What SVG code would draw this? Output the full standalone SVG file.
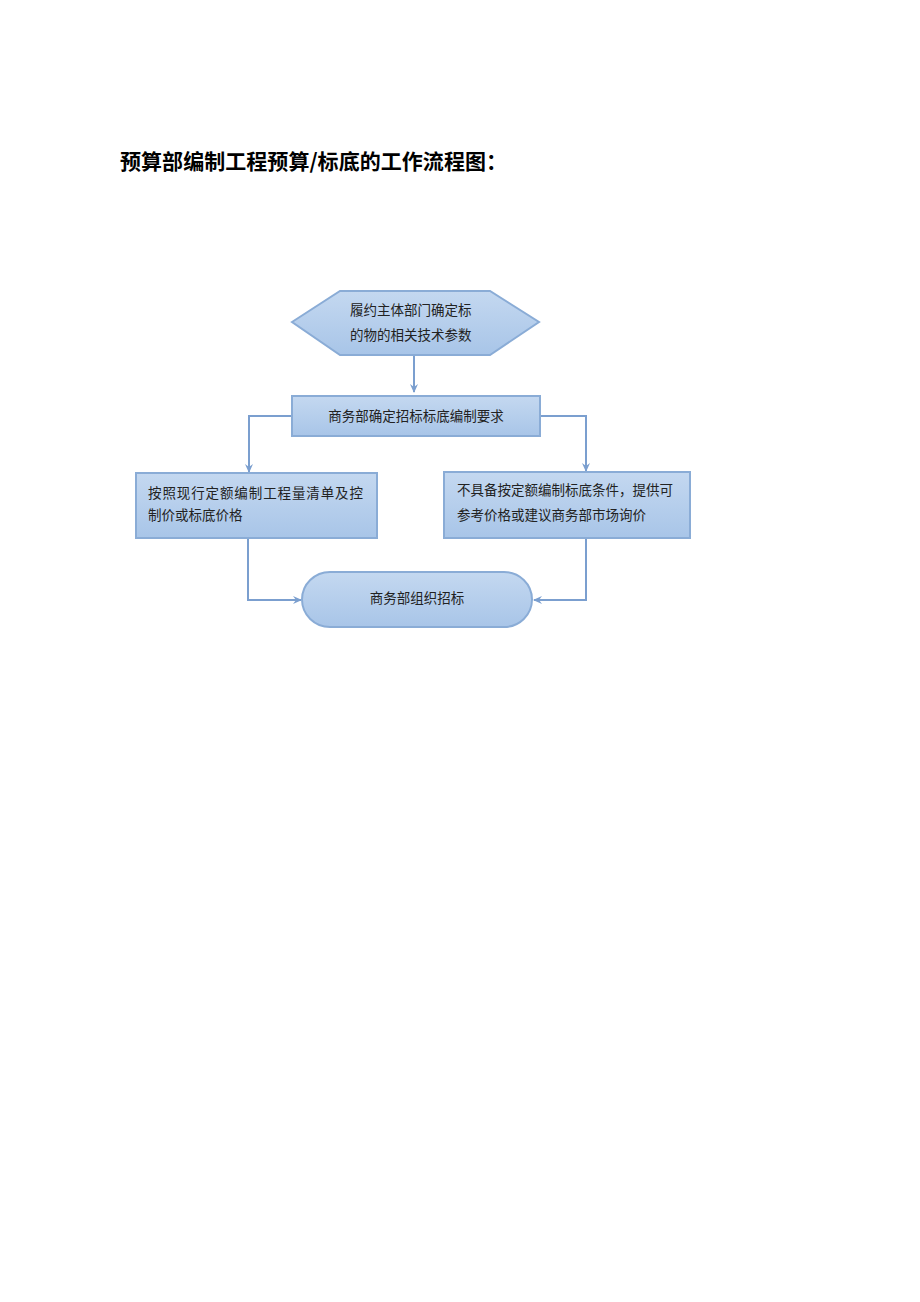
<svg xmlns="http://www.w3.org/2000/svg" width="920" height="1302" viewBox="0 0 920 1302">
<style>
.shape{fill:url(#g);stroke:#8aacd6;stroke-width:2}
.t{font-family:"Noto Sans CJK SC","Noto Sans",sans-serif;font-size:13.5px;fill:#222}
.c{text-anchor:middle}
.title{font-family:"Noto Sans CJK SC",sans-serif;font-size:21px;font-weight:bold;fill:#000}
.conn{fill:none;stroke:#7b9fcf;stroke-width:2}
</style>
<defs>
<linearGradient id="g" x1="0" y1="0" x2="0" y2="1">
<stop offset="0" stop-color="#c4d8f0"/>
<stop offset="1" stop-color="#a8c5e8"/>
</linearGradient>
<marker id="a" markerWidth="10" markerHeight="10" refX="8" refY="5" orient="auto" markerUnits="userSpaceOnUse">
<path d="M0,1 L9,5 L0,9 L3,5 Z" fill="#7b9fcf"/>
</marker>
</defs>
<text class="title" x="120" y="169" textLength="387" lengthAdjust="spacing">预算部编制工程预算/标底的工作流程图：</text>
<g id="connectors">
<path class="conn" d="M414,355 V392" marker-end="url(#a)"/>
<path class="conn" d="M292,416 H249 V472" marker-end="url(#a)"/>
<path class="conn" d="M540,416 H586 V471" marker-end="url(#a)"/>
<path class="conn" d="M248,538 V600 H301" marker-end="url(#a)"/>
<path class="conn" d="M586,538 V600 H534" marker-end="url(#a)"/>
</g>
<g id="start">
<polygon class="shape" points="292,322 340,291 490,291 539,322 490,355 340,355"/>
<text class="t" x="350" y="315">履约主体部门确定标</text>
<text class="t" x="350" y="340">的物的相关技术参数</text>
</g>
<g id="req">
<rect class="shape" x="292" y="396" width="248" height="40"/>
<text class="t c" x="416" y="421">商务部确定招标标底编制要求</text>
</g>
<g id="left">
<rect class="shape" x="136" y="473" width="241" height="65"/>
<text class="t" x="148" y="498" textLength="215" lengthAdjust="spacing">按照现行定额编制工程量清单及控</text>
<text class="t" x="148" y="520">制价或标底价格</text>
</g>
<g id="right">
<rect class="shape" x="444" y="472" width="246" height="66"/>
<text class="t" x="457" y="495" textLength="216" lengthAdjust="spacing">不具备按定额编制标底条件，提供可</text>
<text class="t" x="457" y="520">参考价格或建议商务部市场询价</text>
</g>
<g id="end">
<rect class="shape" x="302" y="572" width="230" height="55" rx="28" ry="27.5"/>
<text class="t c" x="417" y="603">商务部组织招标</text>
</g>
</svg>
